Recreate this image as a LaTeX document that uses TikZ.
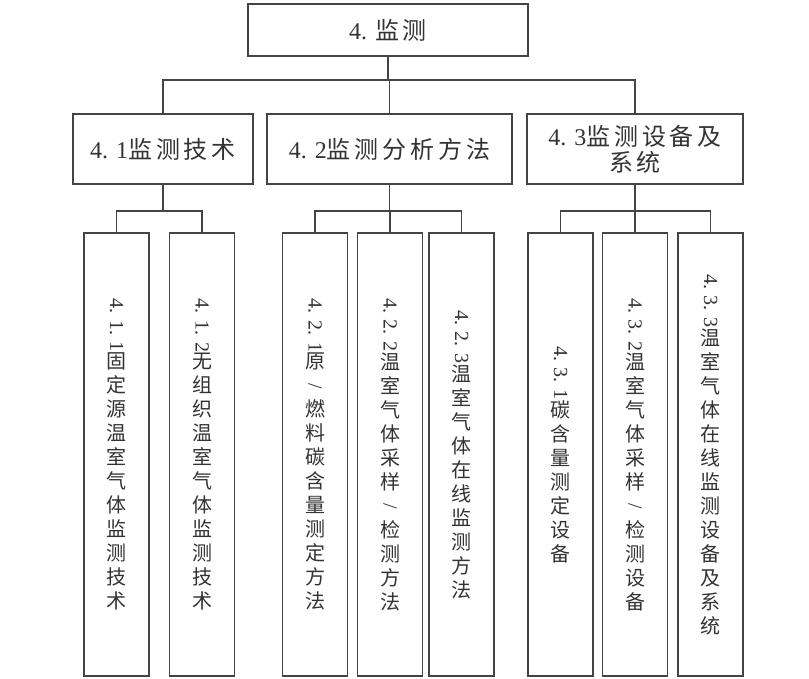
\documentclass[tikz,border=0pt]{standalone}
\usepackage{fontspec}
\usepackage{graphicx}
\setmainfont{Liberation Serif}
\newfontfamily\cjk{Noto Sans CJK SC}
\newfontfamily\cjkh[LetterSpace=16]{Noto Sans CJK SC}
\definecolor{ln}{HTML}{444444}
\definecolor{tx}{HTML}{333333}
\newcommand\rotd[1]{\rotatebox{-90}{\rmfamily #1}}
\newcommand\vsl{\raisebox{0pt}[15pt][3pt]{\rotatebox[origin=c]{-90}{\rmfamily /}}}
\begin{document}
\begin{tikzpicture}[x=1pt,y=-1pt,
  box/.style={draw=ln, line width=1.5pt, fill=white, text=tx, inner sep=0pt, align=center},
  hbox/.style={box, font=\cjkh\fontsize{24}{26}\selectfont},
  vbox/.style={box, minimum width=65pt, minimum height=443pt, font=\cjk\fontsize{20}{24}\selectfont},
  conn/.style={draw=ln, line width=1.5pt}]
\useasboundingbox[fill=white] (0,0) rectangle (809,679);

\node[hbox, minimum width=280pt, minimum height=52pt] (top) at (388,30) {{\rmfamily 4. }监测};

\node[hbox, minimum width=180pt, minimum height=70pt] (p41) at (163,149) {{\rmfamily 4. 1}监测技术};
\node[hbox, minimum width=245pt, minimum height=70pt] (p42) at (389.5,149) {{\rmfamily 4. 2}监测分析方法};
\node[hbox, minimum width=216pt, minimum height=70pt] (p43) at (635,149) {{\rmfamily 4. 3}监测设备及\\系统};

\node[vbox] (c411) at (116.5,454.5) {\rotd{4. 1. 1}\\固\\定\\源\\温\\室\\气\\体\\监\\测\\技\\术};
\node[vbox] (c412) at (202,454.5) {\rotd{4. 1. 2}\\无\\组\\织\\温\\室\\气\\体\\监\\测\\技\\术};

\node[vbox] (c421) at (315,454.5) {\rotd{4. 2. 1}\\原\\\vsl\\燃\\料\\碳\\含\\量\\测\\定\\方\\法};
\node[vbox] (c422) at (390,454.5) {\rotd{4. 2. 2}\\温\\室\\气\\体\\采\\样\\\vsl\\检\\测\\方\\法};
\node[vbox] (c423) at (461.5,454.5) {\rotd{4. 2. 3}\\温\\室\\气\\体\\在\\线\\监\\测\\方\\法};

\node[vbox] (c431) at (560.5,454.5) {\rotd{4. 3. 1}\\碳\\含\\量\\测\\定\\设\\备};
\node[vbox] (c432) at (635,454.5) {\rotd{4. 3. 2}\\温\\室\\气\\体\\采\\样\\\vsl\\检\\测\\设\\备};
\node[vbox] (c433) at (710.5,454.5) {\rotd{4. 3. 3}\\温\\室\\气\\体\\在\\线\\监\\测\\设\\备\\及\\系\\统};

% level 1 connectors
\draw[conn] (top.south) -- (top.south |- 0,80);
\draw[conn] (p41.north) |- (p43.north |- 0,80) -- (p43.north);
\draw[conn] (p42.north) -- (p42.north |- 0,80);

% level 2 connectors
\draw[conn] (p41.south) -- (p41.south |- 0,211);
\draw[conn] (c411.north) |- (c412.north |- 0,211) -- (c412.north);

\draw[conn] (p42.south) -- (p42.south |- 0,211);
\draw[conn] (c421.north) |- (c423.north |- 0,211) -- (c423.north);
\draw[conn] (c422.north) -- (c422.north |- 0,211);

\draw[conn] (p43.south) -- (p43.south |- 0,211);
\draw[conn] (c431.north) |- (c433.north |- 0,211) -- (c433.north);
\draw[conn] (c432.north) -- (c432.north |- 0,211);
\end{tikzpicture}
\end{document}
